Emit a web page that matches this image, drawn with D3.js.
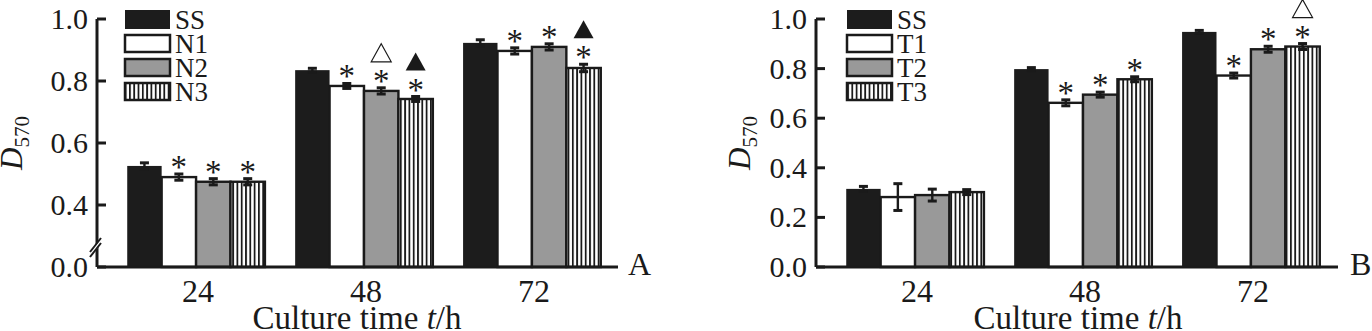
<!DOCTYPE html>
<html><head><meta charset="utf-8">
<script src="https://cdn.jsdelivr.net/npm/d3@7"></script>
<style>body{margin:0;background:#fff}svg{display:block}text{font-family:"Liberation Serif","Times New Roman",serif;fill:#1a1a1a}</style>
</head><body>
<svg id="c" width="1372" height="331" font-family="Liberation Serif, serif"></svg>
<script>
const times = ["24", "48", "72"];
const seriesA = ["SS", "N1", "N2", "N3"];
const valuesA = [
  [0.526, 0.835, 0.923],
  [0.490, 0.784, 0.897],
  [0.475, 0.768, 0.910],
  [0.475, 0.742, 0.842]
];
const errorsA = [
  [0.010, 0.006, 0.010],
  [0.010, 0.008, 0.010],
  [0.010, 0.010, 0.010],
  [0.010, 0.008, 0.012]
];
// marks above bars: "*" asterisk, "o" open triangle, "f" filled triangle
const marksA = [
  ["", "", ""],
  ["*", "*", "*"],
  ["*", "*o", "*"],
  ["*", "*f", "*f"]
];
const seriesB = ["SS", "T1", "T2", "T3"];
const valuesB = [
  [0.315, 0.798, 0.948],
  [0.282, 0.662, 0.772],
  [0.290, 0.695, 0.878],
  [0.302, 0.757, 0.889]
];
const errorsB = [
  [0.010, 0.006, 0.006],
  [0.054, 0.012, 0.010],
  [0.024, 0.010, 0.012],
  [0.010, 0.010, 0.012]
];
const marksB = [
  ["", "", ""],
  ["", "*", "*"],
  ["", "*", "*"],
  ["", "*", "*o"]
];
const ticksA = [0, 0.4, 0.6, 0.8, 1.0];
const ticksB = [0, 0.2, 0.4, 0.6, 0.8, 1.0];

const svg = d3.select("#c");
const defs = svg.append("defs");
const pat = defs.append("pattern").attr("id","hatch").attr("patternUnits","userSpaceOnUse")
  .attr("width",4.3).attr("height",10);
pat.append("rect").attr("width",4.3).attr("height",10).attr("fill","#fff");
pat.append("rect").attr("x",0).attr("width",1.8).attr("height",10).attr("fill","#1a1a1a");

const fills = ["#1c1c1c", "#ffffff", "#999999", "url(#hatch)"];
const ink = "#1a1a1a";

function panel(o) {
  const g = svg.append("g");
  const y = d3.scaleLinear().domain(o.ydom).range(o.yrange);
  const x0 = d3.scaleBand().domain(times).range([o.x0, o.x1]).paddingInner(0.18).paddingOuter(0.18);
  const x1 = d3.scaleBand().domain(o.series).range([0, x0.bandwidth()]);
  // bars
  o.series.forEach((s, si) => {
    times.forEach((t, ti) => {
      const v = o.values[si][ti], e = o.errors[si][ti];
      const bx = x0(t) + x1(s), bw = x1.bandwidth();
      g.append("rect").attr("x", bx).attr("y", y(v)).attr("width", bw).attr("height", y(0) - y(v))
        .attr("fill", fills[si]).attr("stroke", si === 0 ? "none" : ink).attr("stroke-width", 2.4);
      const cx = bx + bw / 2;
      g.append("line").attr("x1", cx).attr("x2", cx).attr("y1", y(v - e)).attr("y2", y(v + e))
        .attr("stroke", ink).attr("stroke-width", 2.4);
      [v - e, v + e].forEach(ev => g.append("line").attr("x1", cx - 4.5).attr("x2", cx + 4.5)
        .attr("y1", y(ev)).attr("y2", y(ev)).attr("stroke", ink).attr("stroke-width", 3));
      const m = o.marks[si][ti];
      let top = y(v + e) - 4;
      if (m.includes("*")) {
        g.append("text").attr("x", cx).attr("y", top + 8).attr("text-anchor", "middle")
          .attr("font-size", 33).text("*");
        top -= 15;
      }
      if (m.includes("o") || m.includes("f")) {
        const filled = m.includes("f");
        const b = top - 7, h = 18, w = 10;
        g.append("polygon").attr("points", `${cx - w},${b} ${cx + w},${b} ${cx},${b - h}`)
          .attr("fill", filled ? ink : "#fff").attr("stroke", ink).attr("stroke-width", filled ? 0 : 1.2);
      }
    });
  });
  // axes
  g.append("line").attr("x1", o.x0).attr("x2", o.xend).attr("y1", y(0)).attr("y2", y(0))
    .attr("stroke", ink).attr("stroke-width", 3);
  g.append("line").attr("x1", o.x0).attr("x2", o.x0).attr("y1", y(0)).attr("y2", y(1.0))
    .attr("stroke", ink).attr("stroke-width", 3);
  o.ticks.forEach(t => {
    g.append("line").attr("x1", o.x0).attr("x2", o.x0 + 9).attr("y1", y(t)).attr("y2", y(t))
      .attr("stroke", ink).attr("stroke-width", 3);
    g.append("text").attr("x", o.x0 - 9).attr("y", y(t) + 10).attr("text-anchor", "end")
      .attr("font-size", 30).text(d3.format(".1f")(t));
  });
  times.forEach(t => {
    g.append("text").attr("x", x0(t) + x0.bandwidth() / 2 + 2).attr("y", 302).attr("text-anchor", "middle")
      .attr("font-size", 32).text(t);
  });
  if (o.brk) {
    const by = o.brk;
    g.append("polygon").attr("points", `${o.x0-6},${by+6} ${o.x0+6},${by-8} ${o.x0+6},${by-3} ${o.x0-6},${by+11}`)
      .attr("fill", "#fff");
    [0, 5].forEach(d => g.append("line").attr("x1", o.x0 - 7).attr("y1", by + 7 + d).attr("x2", o.x0 + 4).attr("y2", by - 7 + d)
      .attr("stroke", ink).attr("stroke-width", 2));
  }
  // panel letter
  g.append("text").attr("x", o.letterX).attr("y", 275).attr("font-size", 32).text(o.letter);
  // axis titles
  const xt = g.append("text").attr("x", o.xtitle).attr("y", 329).attr("text-anchor", "middle").attr("font-size", 33);
  xt.append("tspan").text("Culture time ");
  xt.append("tspan").attr("font-style", "italic").text("t");
  xt.append("tspan").text("/h");
  const yt = g.append("text").attr("transform", `translate(${o.ytitleX},143) rotate(-90)`).attr("text-anchor", "middle")
    .attr("font-size", 31);
  yt.append("tspan").attr("font-style", "italic").text("D");
  yt.append("tspan").attr("font-size", 21).attr("dy", 7).text("570");
  // legend
  o.series.forEach((s, si) => {
    const ly = 10 + si * 24;
    g.append("rect").attr("x", o.legX).attr("y", ly + (si === 0 ? 0 : 1)).attr("width", 45).attr("height", si === 0 ? 19 : 17)
      .attr("fill", fills[si]).attr("stroke", si === 0 ? "none" : ink).attr("stroke-width", 2.5);
    g.append("text").attr("x", o.legX + 50).attr("y", ly + 19).attr("font-size", 27).text(s);
  });
}

panel({ x0: 97, x1: 631, xend: 618, ydom: [0, 0.4, 1.0], yrange: [267, 205, 19], series: seriesA,
  values: valuesA, errors: errorsA, marks: marksA, ticks: ticksA, brk: 245, letter: "A", letterX: 628,
  xtitle: 357, ytitleX: 22, legX: 125 });
panel({ x0: 816, x1: 1350, xend: 1338, ydom: [0, 1.0], yrange: [267, 19], series: seriesB,
  values: valuesB, errors: errorsB, marks: marksB, ticks: ticksB, brk: null, letter: "B", letterX: 1350,
  xtitle: 1078, ytitleX: 750, legX: 847 });
</script>
</body></html>
